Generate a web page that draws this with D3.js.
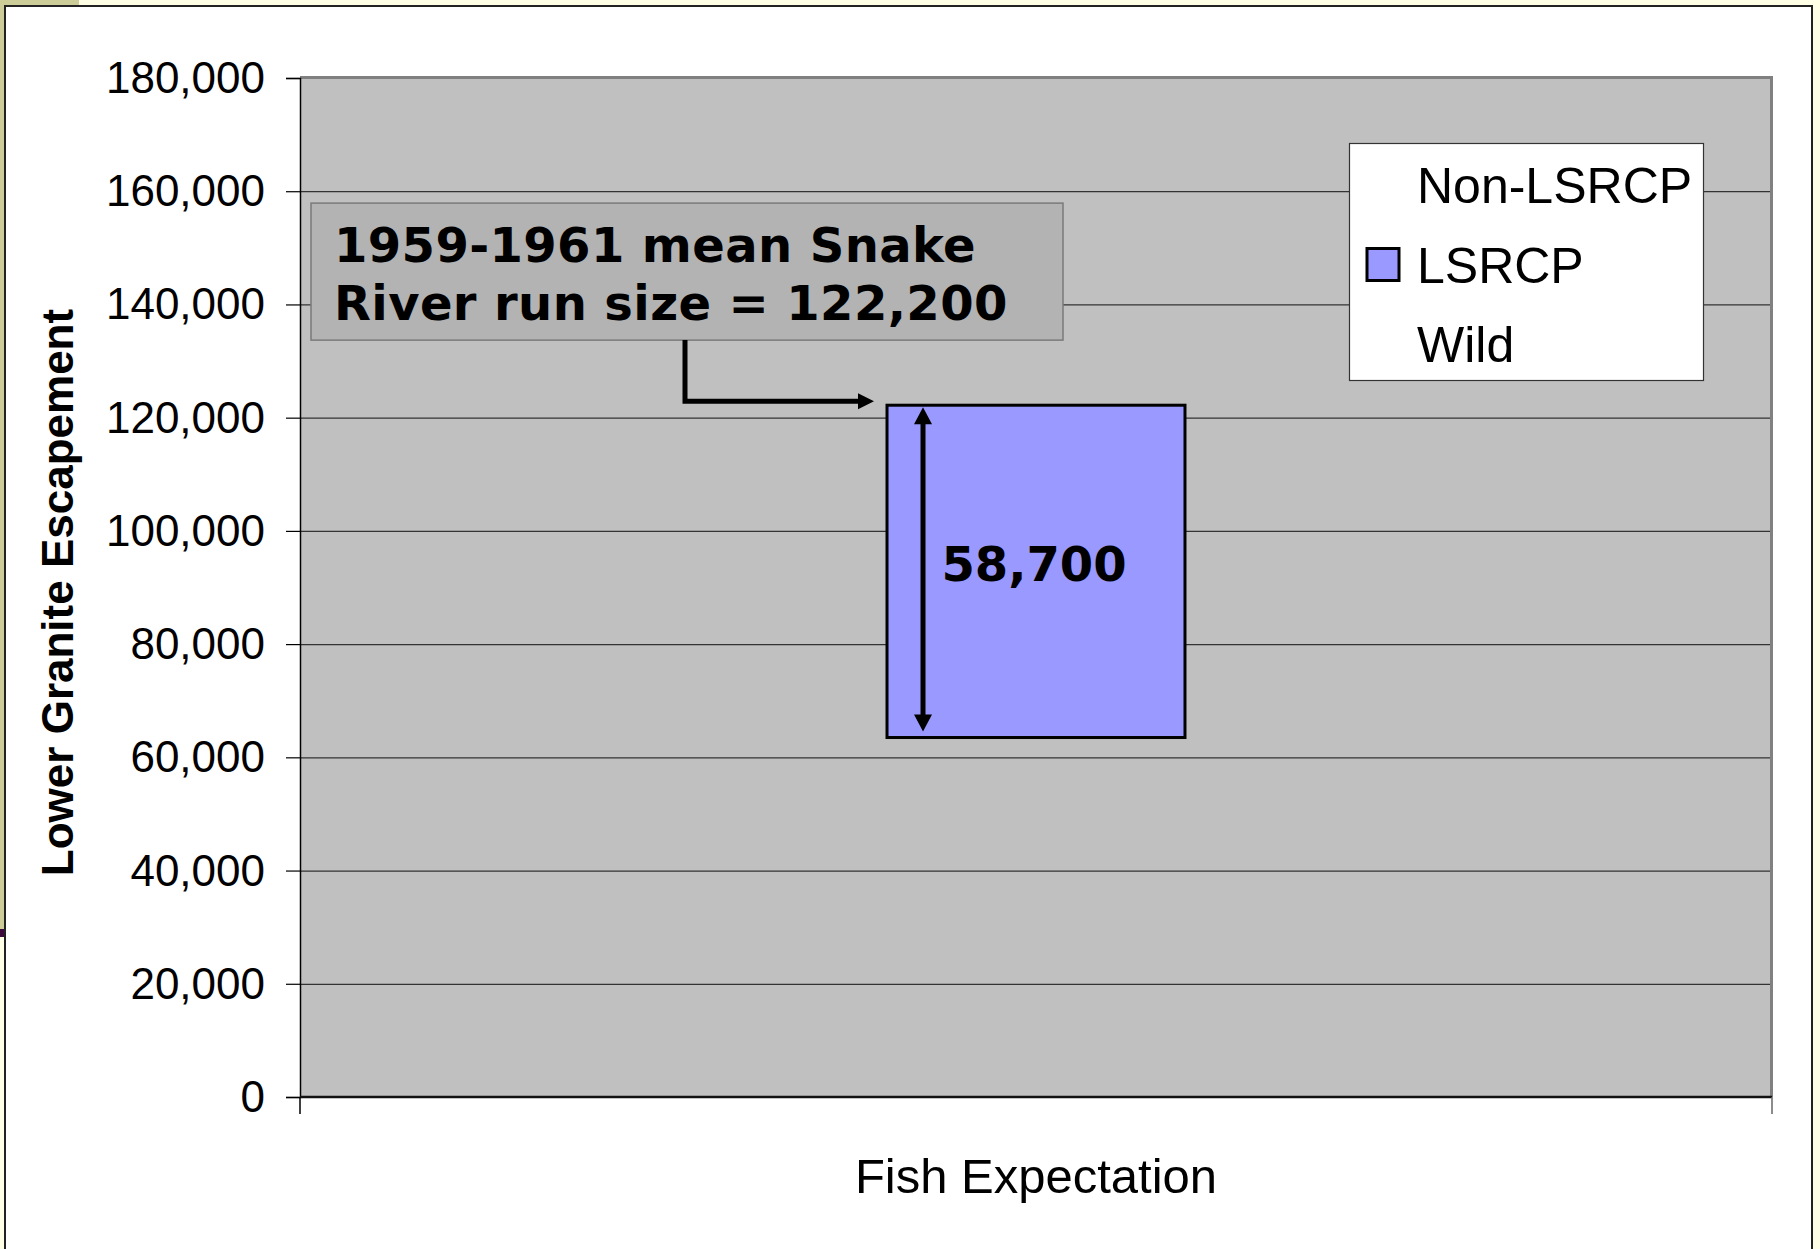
<!DOCTYPE html>
<html>
<head>
<meta charset="utf-8">
<script src="https://cdn.jsdelivr.net/npm/d3@7"></script>
<style>
    body { margin: 0; background: #ffffe6; }
    svg { display: block; }
</style>
</head>
<body>
<svg id="chart" width="1820" height="1249"></svg>
<script>
var categories = ['Fish Expectation'];
var seriesNames = ['Wild', 'LSRCP', 'Non-LSRCP'];
var wildValues = [63500];
var lsrcpValues = [58700];
var nonLsrcpValues = [0];
var legendNames = ['Non-LSRCP', 'LSRCP', 'Wild'];
var yTicks = [0, 20000, 40000, 60000, 80000, 100000, 120000, 140000, 160000, 180000];
var runSize = 122200;
var noteLines = ['1959-1961 mean Snake', 'River run size = 122,200'];

var svg = d3.select('#chart');
var plot = { left: 300, top: 78, right: 1772, bottom: 1097 };

// slide background bits round the chart frame
svg.append('rect').attr('x', 0).attr('y', 0).attr('width', 1820).attr('height', 1249).attr('fill', '#ffffe6');
svg.append('rect').attr('x', 0).attr('y', 0).attr('width', 79).attr('height', 6).attr('fill', '#cccc99');
svg.append('rect').attr('x', 0).attr('y', 0).attr('width', 5).attr('height', 929).attr('fill', '#cccc99');
svg.append('rect').attr('x', 0).attr('y', 929).attr('width', 5).attr('height', 8).attr('fill', '#3c0a3c');
svg.append('rect')
    .attr('x', 5).attr('y', 6).attr('width', 1807).attr('height', 1260)
    .attr('fill', '#ffffff').attr('stroke', '#222222').attr('stroke-width', 2);

var rows = categories.map(function(c, i)
{
    return { category: c, 'Wild': wildValues[i], 'LSRCP': lsrcpValues[i], 'Non-LSRCP': nonLsrcpValues[i] };
});
var stacked = d3.stack().keys(seriesNames)(rows);

var x = d3.scaleBand().domain(categories).range([plot.left, plot.right]).padding(0.6633);
var y = d3.scaleLinear().domain([0, 180000]).range([plot.bottom, plot.top]);

var colors = { 'Wild': 'none', 'LSRCP': '#9999ff', 'Non-LSRCP': 'none' };

// plot area
svg.append('rect')
    .attr('x', plot.left).attr('y', plot.top)
    .attr('width', plot.right - plot.left).attr('height', plot.bottom - plot.top)
    .attr('fill', '#c0c0c0');

svg.append('g').selectAll('line').data(yTicks.slice(1)).enter()
    .append('line')
    .attr('x1', plot.left).attr('x2', plot.right)
    .attr('y1', function(d) { return y(d) + 0.5; })
    .attr('y2', function(d) { return y(d) + 0.5; })
    .attr('stroke', '#333333').attr('stroke-width', 1.2);

// top and right border
svg.append('path')
    .attr('d', 'M' + plot.left + ',' + (plot.top - 0.5) + 'H' + (plot.right - 0.5) + 'V' + plot.bottom)
    .attr('fill', 'none').attr('stroke', '#808080').attr('stroke-width', 3);

// y axis
var yAxis = d3.axisLeft(y).tickValues(yTicks).tickSize(14).tickPadding(21).tickFormat(d3.format(','));
var yAxisG = svg.append('g').attr('transform', 'translate(' + plot.left + ',0)').call(yAxis);
yAxisG.select('.domain').attr('stroke', '#000').attr('stroke-width', 1.5);
yAxisG.selectAll('.tick line').attr('stroke', '#000').attr('stroke-width', 1.2);
yAxisG.selectAll('.tick text')
    .attr('font-family', '"Liberation Sans", Arial, sans-serif')
    .attr('font-size', 44).attr('fill', '#000').attr('dy', '0.33em');

// x axis line and boundary ticks
svg.append('line')
    .attr('x1', plot.left).attr('x2', plot.right)
    .attr('y1', plot.bottom).attr('y2', plot.bottom)
    .attr('stroke', '#111').attr('stroke-width', 2.5);
svg.append('g').selectAll('line').data([plot.left, plot.right]).enter()
    .append('line')
    .attr('x1', function(d) { return d; }).attr('x2', function(d) { return d; })
    .attr('y1', plot.bottom).attr('y2', plot.bottom + 17)
    .attr('stroke', function(d, i) { return i ? '#666' : '#000'; }).attr('stroke-width', 1.5);

// stacked bars
stacked.forEach(function(layer)
{
    svg.append('g').selectAll('rect').data(layer).enter()
        .append('rect')
        .attr('x', function(d) { return x(d.data.category); })
        .attr('width', x.bandwidth())
        .attr('y', function(d) { return y(d[1]); })
        .attr('height', function(d) { return y(d[0]) - y(d[1]); })
        .attr('fill', colors[layer.key])
        .attr('stroke', colors[layer.key] == 'none' ? 'none' : '#000')
        .attr('stroke-width', 3);
});

var lsrcpLayer = stacked[1][0];
var barLeft = x(categories[0]);
var barMid = barLeft + x.bandwidth() / 2;

// double arrow across LSRCP segment
var arrowX = barLeft + 36;
var arrowTop = y(lsrcpLayer[1]) + 2;
var arrowBottom = y(lsrcpLayer[0]) - 6;
svg.append('line')
    .attr('x1', arrowX).attr('x2', arrowX)
    .attr('y1', arrowTop + 10).attr('y2', arrowBottom - 10)
    .attr('stroke', '#000').attr('stroke-width', 5);
svg.append('path')
    .attr('d', 'M' + arrowX + ',' + arrowTop + 'l-9,17h18z' +
               'M' + arrowX + ',' + arrowBottom + 'l-9,-17h18z')
    .attr('fill', '#000');

svg.append('text')
    .attr('x', barMid - 2).attr('y', (y(lsrcpLayer[1]) + y(lsrcpLayer[0])) / 2 + 10)
    .attr('text-anchor', 'middle')
    .attr('font-family', '"DejaVu Sans", Verdana, sans-serif')
    .attr('font-weight', 'bold').attr('font-size', 48)
    .attr('fill', '#000')
    .text(d3.format(',')(lsrcpValues[0]));

// callout box
var noteBox = { x: plot.left + 11, y: y(157900), w: 752, h: y(133700) - y(157900) };
svg.append('rect')
    .attr('x', noteBox.x).attr('y', noteBox.y).attr('width', noteBox.w).attr('height', noteBox.h)
    .attr('fill', '#b3b3b3').attr('stroke', '#7a7a7a').attr('stroke-width', 1.5);
svg.append('g').selectAll('text').data(noteLines).enter()
    .append('text')
    .attr('x', noteBox.x + 23)
    .attr('y', function(d, i) { return noteBox.y + 59 + i * 58; })
    .attr('font-family', '"DejaVu Sans", Verdana, sans-serif')
    .attr('font-weight', 'bold').attr('font-size', 48)
    .attr('letter-spacing', 0.4)
    .attr('fill', '#000')
    .text(function(d) { return d; });

// connector from box to bar top
var connX = noteBox.x + 374;
var connY = y(runSize) - 4;
var tipX = barLeft - 13;
svg.append('path')
    .attr('d', 'M' + connX + ',' + (noteBox.y + noteBox.h) + 'V' + connY + 'H' + (tipX - 12))
    .attr('fill', 'none').attr('stroke', '#000').attr('stroke-width', 5);
svg.append('path')
    .attr('d', 'M' + tipX + ',' + connY + 'l-16,-8v16z')
    .attr('fill', '#000');

// legend
var legend = svg.append('g');
legend.append('rect')
    .attr('x', 1349.5).attr('y', 143.5).attr('width', 354).attr('height', 237)
    .attr('fill', '#fff').attr('stroke', '#333').attr('stroke-width', 1.2);
var legendItems = legend.selectAll('g.item').data(legendNames).enter()
    .append('g').classed('item', true)
    .attr('transform', function(d, i) { return 'translate(1366,' + (203 + i * 79.5) + ')'; });
legendItems.append('rect')
    .attr('x', 1).attr('y', -34).attr('width', 32).attr('height', 32)
    .attr('fill', function(d) { return colors[d]; })
    .attr('stroke', function(d) { return colors[d] == 'none' ? 'none' : '#000'; })
    .attr('stroke-width', 3);
legendItems.append('text')
    .attr('x', 51).attr('y', 0)
    .attr('font-family', '"Liberation Sans", Arial, sans-serif')
    .attr('font-size', 50).attr('fill', '#000')
    .text(function(d) { return d; });

// axis titles
svg.append('text')
    .attr('x', (plot.left + plot.right) / 2).attr('y', 1193)
    .attr('text-anchor', 'middle')
    .attr('font-family', '"Liberation Sans", Arial, sans-serif')
    .attr('font-size', 49).attr('fill', '#000')
    .text(categories[0]);

svg.append('text')
    .attr('transform', 'translate(73,' + ((plot.top + plot.bottom) / 2 + 5) + ') rotate(-90)')
    .attr('text-anchor', 'middle')
    .attr('font-family', '"Liberation Sans", Arial, sans-serif')
    .attr('font-weight', 'bold').attr('font-size', 44).attr('fill', '#000')
    .text('Lower Granite Escapement');
</script>
</body>
</html>
